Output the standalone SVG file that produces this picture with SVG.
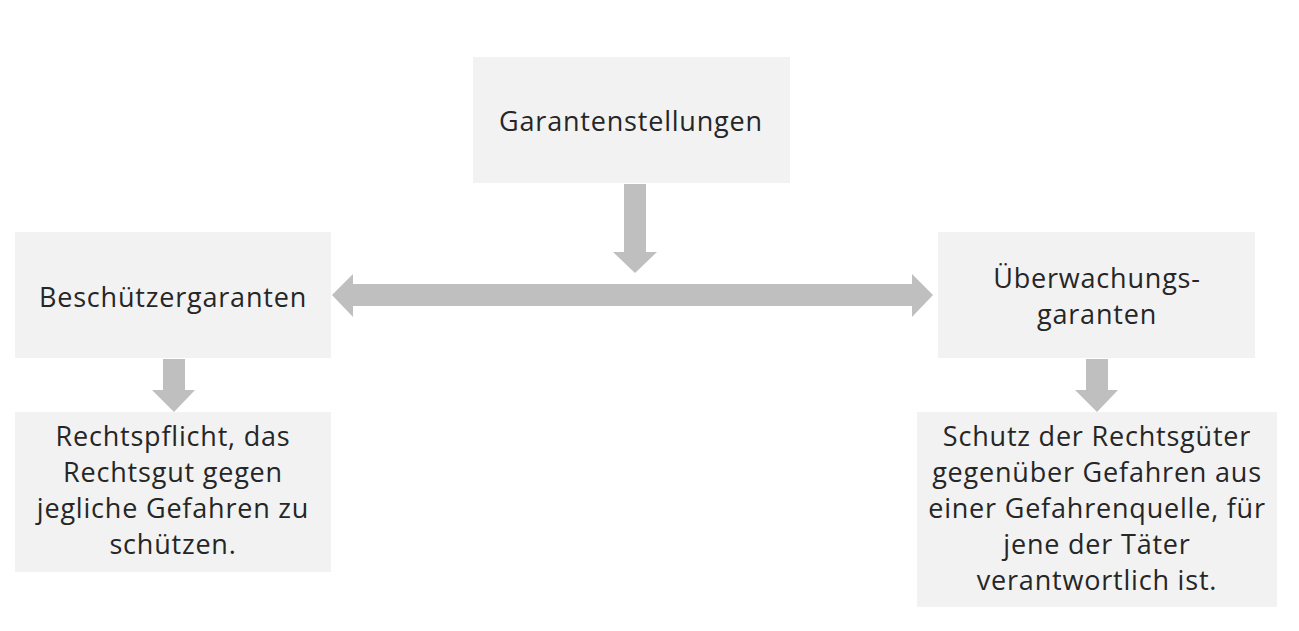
<svg xmlns="http://www.w3.org/2000/svg" width="1299" height="631" viewBox="0 0 1299 631">
<style>
.box{fill:#f2f2f2}
.arr{fill:#bfbfbf}
text{font-family:"Open Sans","Liberation Sans",sans-serif;font-size:27px;letter-spacing:0.8px;fill:#262626;text-anchor:middle}
</style>
<rect width="1299" height="631" fill="#ffffff"/>
<g id="connectors">
<polygon class="arr" points="624,184 646,184 646,252 657,252 635,273 613,252 624,252"/>
<polygon class="arr" points="332,295 353,274 353,284 912,284 912,274 933,295 912,317 912,306 353,306 353,317"/>
<polygon class="arr" points="163,359 185,359 185,390 195,390 174,412 152,390 163,390"/>
<polygon class="arr" points="1086,359 1108,359 1108,390 1118,390 1097,412 1075,390 1086,390"/>
</g>
<g id="garantenstellungen">
<rect class="box" x="473" y="57" width="317" height="126"/>
<text x="631" y="131">Garantenstellungen</text>
</g>
<g id="beschuetzergaranten">
<rect class="box" x="15" y="232" width="316" height="126"/>
<text x="173" y="307">Beschützergaranten</text>
</g>
<g id="ueberwachungsgaranten">
<rect class="box" x="938" y="232" width="317" height="126"/>
<text x="1097" y="288">Überwachungs-</text>
<text x="1097" y="324">garanten</text>
</g>
<g id="rechtspflicht">
<rect class="box" x="15" y="412" width="316" height="160"/>
<text x="173" y="446">Rechtspflicht, das</text>
<text x="173" y="482">Rechtsgut gegen</text>
<text x="173" y="518">jegliche Gefahren zu</text>
<text x="173" y="554">schützen.</text>
</g>
<g id="schutz">
<rect class="box" x="917" y="412" width="360" height="195"/>
<text x="1097" y="446">Schutz der Rechtsgüter</text>
<text x="1097" y="482">gegenüber Gefahren aus</text>
<text x="1097" y="518">einer Gefahrenquelle, für</text>
<text x="1097" y="554">jene der Täter</text>
<text x="1097" y="590">verantwortlich ist.</text>
</g>
</svg>
